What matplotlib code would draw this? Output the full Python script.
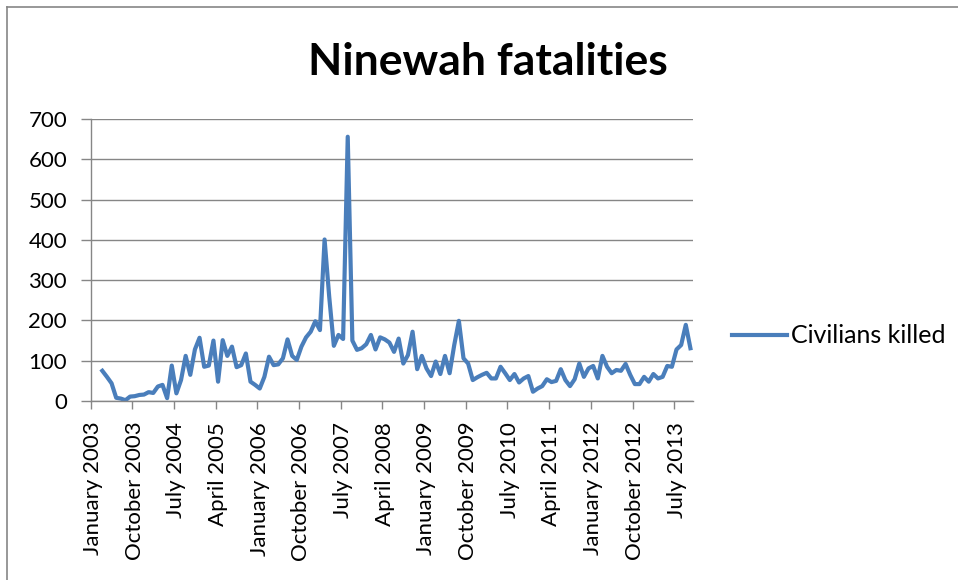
import numpy as np
import pandas as pd
import matplotlib
matplotlib.use("Agg")
import matplotlib.pyplot as plt
from matplotlib.lines import Line2D

plt.rcParams['font.family'] = ['Lato', 'DejaVu Sans']

# monthly categories, January 2003 .. October 2013
months = pd.date_range('2003-01-01', periods=130, freq='MS')
month_names = [d.strftime('%B %Y') for d in months]

# civilians killed per month (first two months have no data)
civilians_killed = [np.nan, np.nan,
    75, 60, 44, 8, 6, 2, 11, 12, 15, 16, 22, 20, 36, 40, 7, 88, 19, 52,
    112, 65, 128, 157, 85, 88, 150, 48, 151, 112, 135, 84, 89, 118, 48, 40,
    31, 60, 110, 89, 91, 106, 153, 112, 102, 135, 158, 172, 198, 176, 401, 259,
    137, 164, 154, 656, 150, 127, 131, 141, 164, 128, 158, 153, 145, 122, 155, 93,
    114, 172, 79, 112, 81, 62, 98, 67, 112, 69, 139, 199, 106, 93, 52, 59,
    65, 70, 56, 56, 85, 69, 52, 67, 46, 56, 62, 23, 31, 37, 54, 47,
    50, 79, 52, 37, 54, 93, 60, 81, 87, 56, 112, 85, 69, 77, 75, 92,
    65, 42, 42, 60, 48, 67, 56, 60, 87, 85, 128, 139, 189, 131]

label_step = 9
y_ticks = [0, 100, 200, 300, 400, 500, 600, 700]

fig = plt.figure(figsize=(9.58, 5.80), dpi=100)
ax = fig.add_axes([0.0947, 0.3086, 0.6284, 0.4862])

x = np.arange(len(month_names))
ax.plot(x, civilians_killed, color='#4A7EBB', lw=3, solid_joinstyle='round',
        label='Civilians killed')

ax.set_xlim(-0.5, len(month_names) - 0.5)
ax.set_ylim(0, 700)

tick_pos = x[::label_step]
ax.set_xticks(tick_pos)
ax.set_xticklabels([month_names[i] for i in tick_pos], rotation=90, fontsize=16)
ax.set_xticks(tick_pos - 0.5, minor=True)
ax.tick_params(axis='x', which='major', length=0, pad=15)
ax.tick_params(axis='x', which='minor', length=6, color='#868686', width=1)

ax.set_yticks(y_ticks)
ax.set_yticklabels([str(v) for v in y_ticks], fontsize=16)
ax.tick_params(axis='y', length=7, color='#868686', width=1, pad=10)

ax.grid(axis='y', color='#868686', lw=1)
ax.set_axisbelow(True)
for s in ['top', 'right']:
    ax.spines[s].set_visible(False)
for s in ['left', 'bottom']:
    ax.spines[s].set_color('#868686')
    ax.spines[s].set_linewidth(1)

fig.text(0.509, 0.893, 'Ninewah fatalities', ha='center', va='center',
         fontsize=32, fontweight='bold')

ax.legend(loc='center left', bbox_to_anchor=(0.764, 0.421),
          bbox_transform=fig.transFigure, frameon=False, fontsize=18,
          handlelength=2.2, handletextpad=0.15, borderaxespad=0, borderpad=0)

# chart border (top and left edges visible in the crop)
fig.add_artist(Line2D([0.0075, 1.0], [0.988, 0.988], transform=fig.transFigure,
                      color='#868686', lw=1.2))
fig.add_artist(Line2D([0.0075, 0.0075], [0.0, 0.988], transform=fig.transFigure,
                      color='#868686', lw=1.2))

fig.savefig('out.png', dpi=100, facecolor='white')
